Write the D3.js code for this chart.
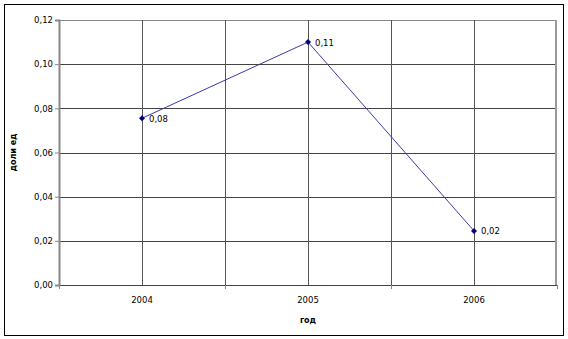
<!DOCTYPE html>
<html>
<head>
<meta charset="utf-8">
<script src="https://cdn.jsdelivr.net/npm/d3@7"></script>
<style>
  body { margin: 0; background: #fff; }
  svg { display: block; font-family: "DejaVu Sans", Verdana, sans-serif; }
</style>
</head>
<body>
<div id="chart"></div>
<script>
// Данные
const years = ["2004", "2005", "2006"];
const values = [0.0755, 0.110, 0.0245];
const valueLabels = ["0,08", "0,11", "0,02"];
const yTicks = [0, 0.02, 0.04, 0.06, 0.08, 0.10, 0.12];

const width = 568;
const height = 339;
const plot = { left: 59, right: 557, top: 20, bottom: 285 };

const svg = d3.select("#chart")
  .append("svg")
  .attr("width", width)
  .attr("height", height);

// рамка
svg.append("rect")
  .attr("x", 4.5).attr("y", 4.5)
  .attr("width", 559).attr("height", 331)
  .attr("fill", "#fff")
  .attr("stroke", "#000")
  .attr("stroke-width", 1);

const x = d3.scaleBand()
  .domain(years)
  .range([plot.left, plot.right]);

const y = d3.scaleLinear()
  .domain([0, 0.12])
  .range([plot.bottom, plot.top]);

const fmt = (d) => d3.format(".2f")(d).replace(".", ",");

// горизонтальная сетка
svg.append("g")
  .selectAll("line")
  .data(yTicks)
  .enter()
  .append("line")
  .attr("x1", plot.left)
  .attr("x2", plot.right)
  .attr("y1", (d) => Math.round(y(d)) + 0.5)
  .attr("y2", (d) => Math.round(y(d)) + 0.5)
  .attr("stroke", (d) => (d === 0.12 ? "#888" : "#444"))
  .attr("stroke-width", 1);

// вертикальная сетка: границы и центры категорий
const boundaries = years.map((d) => x(d)).concat([plot.right]);
const centers = years.map((d) => x(d) + x.bandwidth() / 2);
svg.append("g")
  .selectAll("line")
  .data(boundaries.slice(1, -1).concat(centers))
  .enter()
  .append("line")
  .attr("x1", (d) => Math.round(d) + 0.5)
  .attr("x2", (d) => Math.round(d) + 0.5)
  .attr("y1", plot.top)
  .attr("y2", plot.bottom)
  .attr("stroke", "#555")
  .attr("stroke-width", 1);

// правая и левая границы области построения
svg.append("line")
  .attr("x1", plot.right - 1).attr("x2", plot.right - 1)
  .attr("y1", plot.top).attr("y2", plot.bottom)
  .attr("stroke", "#999").attr("stroke-width", 2);

// ось Y
const yAxis = svg.append("g")
  .attr("transform", `translate(${plot.left},0)`)
  .call(d3.axisLeft(y).tickValues(yTicks).tickFormat(fmt).tickSize(4).tickPadding(2));
yAxis.select(".domain").attr("stroke", "#888").attr("stroke-width", 2);
yAxis.selectAll(".tick line").attr("stroke", "#888");
yAxis.selectAll("text")
  .attr("fill", "#000")
  .style("font-size", "8.5px")
  .style("font-family", "DejaVu Sans, sans-serif");

// ось X
const xAxis = svg.append("g")
  .attr("transform", `translate(0,${plot.bottom})`)
  .call(d3.axisBottom(x).tickSize(0).tickPadding(12));
xAxis.select(".domain").remove();
xAxis.selectAll("text")
  .attr("fill", "#000")
  .style("font-size", "8.5px")
  .style("font-family", "DejaVu Sans, sans-serif");

// засечки между категориями
svg.append("g")
  .selectAll("line")
  .data(boundaries)
  .enter()
  .append("line")
  .attr("x1", (d) => Math.round(d) + 0.5)
  .attr("x2", (d) => Math.round(d) + 0.5)
  .attr("y1", plot.bottom)
  .attr("y2", plot.bottom + 4)
  .attr("stroke", "#888");

// линия ряда
const line = d3.line()
  .x((d, i) => x(years[i]) + x.bandwidth() / 2)
  .y((d) => y(d));

svg.append("path")
  .datum(values)
  .attr("d", line)
  .attr("fill", "none")
  .attr("stroke", "#3a3aa8")
  .attr("stroke-width", 1);

// маркеры-ромбы
svg.append("g")
  .selectAll("path")
  .data(values)
  .enter()
  .append("path")
  .attr("transform", (d, i) => `translate(${x(years[i]) + x.bandwidth() / 2},${y(d)})`)
  .attr("d", "M0,-3L3,0L0,3L-3,0Z")
  .attr("fill", "#000080");

// подписи значений
svg.append("g")
  .selectAll("text")
  .data(values)
  .enter()
  .append("text")
  .attr("x", (d, i) => x(years[i]) + x.bandwidth() / 2 + 7)
  .attr("y", (d) => y(d) + 3.5)
  .style("font-size", "8.5px")
  .attr("fill", "#000")
  .text((d, i) => valueLabels[i]);

// подписи осей
svg.append("text")
  .attr("transform", `translate(16,${(plot.top + plot.bottom) / 2}) rotate(-90)`)
  .attr("text-anchor", "middle")
  .style("font-size", "8px")
  .style("font-weight", "bold")
  .text("доли ед");

svg.append("text")
  .attr("x", (plot.left + plot.right) / 2)
  .attr("y", 323)
  .attr("text-anchor", "middle")
  .style("font-size", "8px")
  .style("font-weight", "bold")
  .text("год");
</script>
</body>
</html>
